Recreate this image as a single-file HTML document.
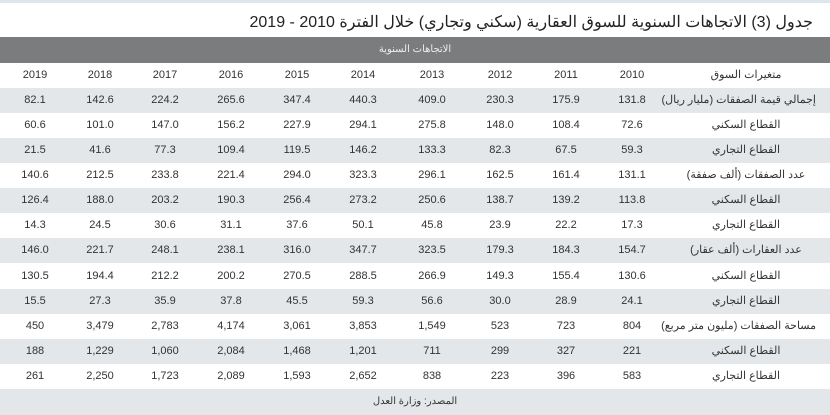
<!DOCTYPE html>
<html><head><meta charset="utf-8">
<style>
body{margin:0;width:830px;height:414px;overflow:hidden;background:#fff;font-family:"Liberation Sans","Noto Sans CJK SC",sans-serif;position:relative}
#strip{position:absolute;left:0;top:0;width:830px;height:3px;background:#dde6ee}
#title{position:absolute;right:17px;top:12px;font-size:16px;color:#222;direction:rtl;white-space:nowrap}
#bar{position:absolute;left:0;top:37px;width:830px;height:26px;background:#7b7c7e;color:#eee;font-size:10px;text-align:center;line-height:26px;direction:rtl}
.row{position:absolute;left:0;width:830px;height:25px}
.c{position:absolute;top:0;height:25px;line-height:25px;font-size:11px;color:#333;text-align:center;transform:translateX(-50%);white-space:nowrap}
.lab{position:absolute;right:14px;top:0;line-height:25px;font-size:11px;color:#333;direction:rtl;width:140px;text-align:center;white-space:nowrap}
</style></head><body>
<div id="strip"></div>
<div id="title">جدول (3) الاتجاهات السنوية للسوق العقارية (سكني وتجاري) خلال الفترة 2010 - 2019</div>
<div id="bar">الاتجاهات السنوية</div>
<div id="tbl"></div>
<script>
const years=["2019","2018","2017","2016","2015","2014","2013","2012","2011","2010"];
const labels=["إجمالي قيمة الصفقات (مليار ريال)","القطاع السكني","القطاع التجاري","عدد الصفقات (ألف صفقة)","القطاع السكني","القطاع التجاري","عدد العقارات (ألف عقار)","القطاع السكني","القطاع التجاري","مساحة الصفقات (مليون متر مربع)","القطاع السكني","القطاع التجاري"];
const r1=["82.1","142.6","224.2","265.6","347.4","440.3","409.0","230.3","175.9","131.8"];
const r2=["60.6","101.0","147.0","156.2","227.9","294.1","275.8","148.0","108.4","72.6"];
const r3=["21.5","41.6","77.3","109.4","119.5","146.2","133.3","82.3","67.5","59.3"];
const r4=["140.6","212.5","233.8","221.4","294.0","323.3","296.1","162.5","161.4","131.1"];
const r5=["126.4","188.0","203.2","190.3","256.4","273.2","250.6","138.7","139.2","113.8"];
const r6=["14.3","24.5","30.6","31.1","37.6","50.1","45.8","23.9","22.2","17.3"];
const r7=["146.0","221.7","248.1","238.1","316.0","347.7","323.5","179.3","184.3","154.7"];
const r8=["130.5","194.4","212.2","200.2","270.5","288.5","266.9","149.3","155.4","130.6"];
const r9=["15.5","27.3","35.9","37.8","45.5","59.3","56.6","30.0","28.9","24.1"];
const r10=["450","3,479","2,783","4,174","3,061","3,853","1,549","523","723","804"];
const r11=["188","1,229","1,060","2,084","1,468","1,201","711","299","327","221"];
const r12=["261","2,250","1,723","2,089","1,593","2,652","838","223","396","583"];
const rows=[r1,r2,r3,r4,r5,r6,r7,r8,r9,r10,r11,r12];
const colX=[35,100,165,231,297,363,432,500,566,632];
const tbl=document.getElementById('tbl');
const rowTop=63,rowH=25.07;
function mkRow(i,bg,cells,label){
  const r=document.createElement('div');
  r.className='row';
  
  
  r.style.top=(rowTop+i*rowH)+'px';r.style.background=bg;
  cells.forEach((v,j)=>{
    const c=document.createElement('div');c.className='c';
    
    
    c.style.left=colX[j]+'px';c.textContent=v;r.appendChild(c);
  });
  const l=document.createElement('div');l.className='lab';
  
  
  l.textContent=label;r.appendChild(l);
  tbl.appendChild(r);
}
mkRow(0,'#fff',years,'متغيرات السوق');
rows.forEach((r,i)=>mkRow(i+1,i%2===0?'#e3e7ea':'#fff',r,labels[i]));
const s=document.createElement('div');
s.className='row';


s.style.top=(rowTop+13*rowH)+'px';s.style.background='#e3e7ea';s.style.height='26px';
s.style.textAlign='center';s.style.lineHeight='25px';s.style.fontSize='10px';s.style.color='#333';s.style.direction='rtl';
s.textContent='المصدر: وزارة العدل';
tbl.appendChild(s);
</script>
</body></html>
